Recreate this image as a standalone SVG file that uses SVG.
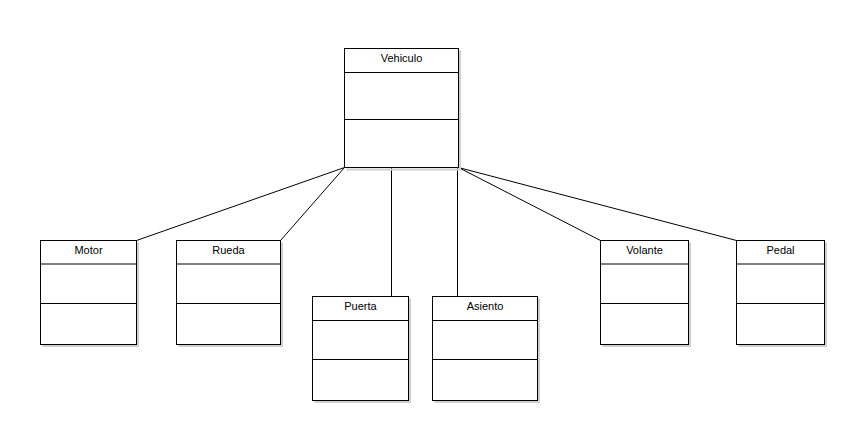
<svg xmlns="http://www.w3.org/2000/svg" width="856" height="436" viewBox="0 0 856 436">
<defs>
<style>
.box{fill:#fff;stroke:#000;stroke-width:1}
.shadow{fill:none;stroke:#d0d0d0;stroke-width:2}
.div{stroke:#000;stroke-width:1}
.t{font-family:"Liberation Sans",Arial,sans-serif;font-size:11px;fill:#000;text-anchor:middle}
.c{stroke:#000;stroke-width:1;fill:none}
</style>
</defs>
<rect width="856" height="436" fill="#fff"/>
<g id="connectors">
<line class="c" x1="344.5" y1="167.5" x2="136.5" y2="240.5"/>
<line class="c" x1="344.5" y1="167.5" x2="280.5" y2="240.5"/>
<line class="c" x1="391.5" y1="167.5" x2="391.5" y2="296.5"/>
<line class="c" x1="457.5" y1="167.5" x2="457.5" y2="296.5"/>
<line class="c" x1="458.5" y1="167.5" x2="600.5" y2="240.5"/>
<line class="c" x1="458.5" y1="167.5" x2="736.5" y2="240.5"/>
</g>
<g id="Vehiculo">
<path class="shadow" d="M460 50.5V169.5H346.5"/>
<rect class="box" x="344.5" y="48.5" width="114" height="119"/>
<line class="div" x1="344.5" y1="72.5" x2="458.5" y2="72.5"/>
<line class="div" x1="344.5" y1="119.5" x2="458.5" y2="119.5"/>
<text class="t" x="401.5" y="62">Vehiculo</text>
</g>
<g id="Motor">
<path class="shadow" d="M138 242.5V346H42.5"/>
<rect class="box" x="40.5" y="240.5" width="96" height="104"/>
<line class="div" x1="40.5" y1="264" x2="136.5" y2="264"/>
<line class="div" x1="40.5" y1="303.5" x2="136.5" y2="303.5"/>
<text class="t" x="88.5" y="254">Motor</text>
</g>
<g id="Rueda">
<path class="shadow" d="M282 242.5V346H178.5"/>
<rect class="box" x="176.5" y="240.5" width="104" height="104"/>
<line class="div" x1="176.5" y1="264" x2="280.5" y2="264"/>
<line class="div" x1="176.5" y1="303.5" x2="280.5" y2="303.5"/>
<text class="t" x="228.5" y="254">Rueda</text>
</g>
<g id="Puerta">
<path class="shadow" d="M410 298.5V402H314.5"/>
<rect class="box" x="312.5" y="296.5" width="96" height="104"/>
<line class="div" x1="312.5" y1="320.5" x2="408.5" y2="320.5"/>
<line class="div" x1="312.5" y1="359.5" x2="408.5" y2="359.5"/>
<text class="t" x="360.5" y="310">Puerta</text>
</g>
<g id="Asiento">
<path class="shadow" d="M539 298.5V402H434.5"/>
<rect class="box" x="432.5" y="296.5" width="105" height="104"/>
<line class="div" x1="432.5" y1="320.5" x2="537.5" y2="320.5"/>
<line class="div" x1="432.5" y1="359.5" x2="537.5" y2="359.5"/>
<text class="t" x="485" y="310">Asiento</text>
</g>
<g id="Volante">
<path class="shadow" d="M690 242.5V346H602.5"/>
<rect class="box" x="600.5" y="240.5" width="88" height="104"/>
<line class="div" x1="600.5" y1="264" x2="688.5" y2="264"/>
<line class="div" x1="600.5" y1="303.5" x2="688.5" y2="303.5"/>
<text class="t" x="644.5" y="254">Volante</text>
</g>
<g id="Pedal">
<path class="shadow" d="M826 242.5V346H738.5"/>
<rect class="box" x="736.5" y="240.5" width="88" height="104"/>
<line class="div" x1="736.5" y1="264" x2="824.5" y2="264"/>
<line class="div" x1="736.5" y1="303.5" x2="824.5" y2="303.5"/>
<text class="t" x="780.5" y="254">Pedal</text>
</g>
</svg>
